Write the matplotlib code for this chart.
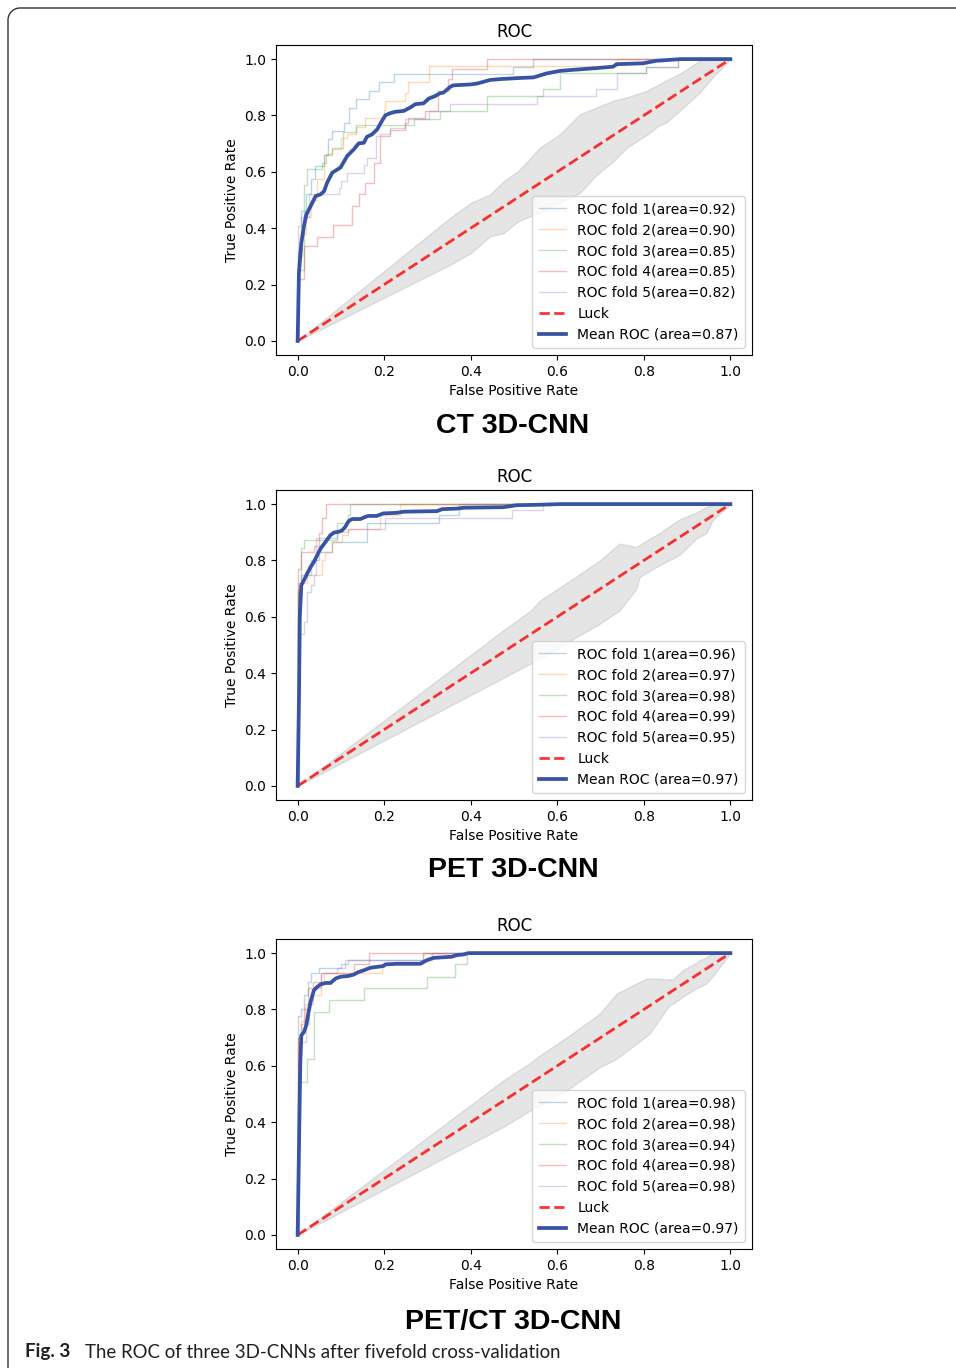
import numpy as np
import matplotlib
matplotlib.use("Agg")
import matplotlib.pyplot as plt
from matplotlib.lines import Line2D

plt.rcParams["font.family"] = ["DejaVu Sans"]

# ---------------- data ----------------
panel_names = ["CT 3D-CNN", "PET 3D-CNN", "PET/CT 3D-CNN"]
fold_aucs = [[0.92, 0.90, 0.85, 0.85, 0.82],
             [0.96, 0.97, 0.98, 0.99, 0.95],
             [0.98, 0.98, 0.94, 0.98, 0.98]]
mean_aucs = [0.87, 0.97, 0.97]
tick_vals = [0.0, 0.2, 0.4, 0.6, 0.8, 1.0]

# fold curves: fpr where TPR jumps, and the TPR level reached there
ct_folds_fpr = [
    [0, 0.008, 0.02, 0.03, 0.04, 0.06, 0.07, 0.08, 0.107, 0.118, 0.136, 0.164, 0.187, 0.222, 0.497, 0.545],
    [0, 0.01, 0.02, 0.03, 0.045, 0.06, 0.08, 0.1, 0.115, 0.135, 0.155, 0.199, 0.203, 0.249, 0.254, 0.303, 0.737],
    [0, 0.0146, 0.022, 0.057, 0.065, 0.08, 0.105, 0.136, 0.268, 0.33, 0.437, 0.567, 0.606, 0.806, 0.879],
    [0, 0.0146, 0.044, 0.081, 0.125, 0.141, 0.156, 0.177, 0.19, 0.213, 0.248, 0.256, 0.294, 0.325, 0.348, 0.356, 0.437],
    [0, 0.008, 0.026, 0.095, 0.1, 0.113, 0.153, 0.16, 0.182, 0.191, 0.214, 0.249, 0.303, 0.353, 0.552, 0.69, 0.737, 0.806, 0.879],
]
ct_folds_tpr = [
    [0.32, 0.46, 0.52, 0.575, 0.62, 0.66, 0.715, 0.745, 0.775, 0.828, 0.858, 0.887, 0.917, 0.947, 0.973, 1.0],
    [0.3, 0.38, 0.44, 0.50, 0.575, 0.66, 0.68, 0.72, 0.735, 0.76, 0.79, 0.822, 0.852, 0.881, 0.917, 0.974, 1.0],
    [0.25, 0.555, 0.609, 0.633, 0.662, 0.686, 0.742, 0.766, 0.787, 0.816, 0.87, 0.893, 0.949, 0.973, 1.0],
    [0.22, 0.336, 0.37, 0.41, 0.48, 0.52, 0.56, 0.633, 0.728, 0.75, 0.775, 0.792, 0.816, 0.887, 0.93, 0.964, 1.0],
    [0.407, 0.44, 0.52, 0.543, 0.567, 0.597, 0.623, 0.65, 0.727, 0.733, 0.757, 0.787, 0.816, 0.84, 0.87, 0.893, 0.949, 0.973, 1.0],
]
pet_folds_fpr = [
    [0, 0.0085, 0.03, 0.049, 0.08, 0.16, 0.326, 0.372],
    [0, 0.022, 0.057, 0.064, 0.08, 0.103, 0.116, 0.191, 0.237],
    [0, 0.0085, 0.0146, 0.0914, 0.116, 0.122],
    [0, 0.0085, 0.0376, 0.049, 0.057, 0.0645],
    [0.003, 0.0146, 0.022, 0.03, 0.0376, 0.0415, 0.0914, 0.116, 0.203, 0.495, 0.567],
]
pet_folds_tpr = [
    [0.70, 0.75, 0.80, 0.83, 0.866, 0.934, 0.96, 1.0],
    [0.72, 0.747, 0.80, 0.83, 0.866, 0.89, 0.913, 0.96, 1.0],
    [0.69, 0.845, 0.872, 0.934, 0.96, 1.0],
    [0.77, 0.83, 0.85, 0.896, 0.95, 1.0],
    [0.54, 0.581, 0.688, 0.712, 0.747, 0.878, 0.90, 0.913, 0.949, 0.979, 1.0],
]
petct_folds_fpr = [
    [0, 0.0085, 0.0146, 0.024, 0.03, 0.05, 0.10, 0.116, 0.29],
    [0, 0.0085, 0.0175, 0.03, 0.053, 0.06, 0.196, 0.29],
    [0, 0.022, 0.0376, 0.072, 0.153, 0.299, 0.364, 0.391],
    [0, 0.0085, 0.0146, 0.024, 0.035, 0.053, 0.13, 0.164],
    [0.003, 0.02, 0.026, 0.035, 0.053, 0.092, 0.11, 0.31],
]
petct_folds_tpr = [
    [0.777, 0.80, 0.85, 0.898, 0.928, 0.946, 0.96, 0.975, 1.0],
    [0.70, 0.76, 0.821, 0.851, 0.898, 0.928, 0.96, 1.0],
    [0.542, 0.625, 0.791, 0.835, 0.877, 0.916, 0.96, 1.0],
    [0.70, 0.75, 0.80, 0.877, 0.898, 0.928, 0.96, 1.0],
    [0.684, 0.75, 0.821, 0.877, 0.928, 0.946, 0.975, 1.0],
]

# mean ROC curves
ct_mean_fpr = [0, 0.003, 0.0085, 0.0146, 0.02, 0.03, 0.0415, 0.053, 0.061, 0.068, 0.080, 0.099, 0.1145, 0.13,
               0.141, 0.153, 0.16, 0.172, 0.184, 0.195, 0.203, 0.214, 0.226, 0.245, 0.26, 0.272, 0.291, 0.303,
               0.318, 0.329, 0.337, 0.353, 0.36, 0.399, 0.414, 0.445, 0.468, 0.514, 0.545, 0.575, 0.606, 0.629,
               0.69, 0.729, 0.737, 0.798, 0.829, 0.886, 1.0]
ct_mean_tpr = [0, 0.241, 0.348, 0.407, 0.448, 0.478, 0.514, 0.52, 0.531, 0.561, 0.597, 0.615, 0.656, 0.68,
               0.701, 0.703, 0.724, 0.733, 0.751, 0.781, 0.801, 0.808, 0.813, 0.816, 0.828, 0.84, 0.843, 0.86,
               0.869, 0.879, 0.881, 0.902, 0.907, 0.91, 0.913, 0.926, 0.929, 0.933, 0.935, 0.949, 0.958, 0.961,
               0.968, 0.973, 0.982, 0.985, 0.994, 1.0, 1.0]
pet_mean_fpr = [0, 0.003, 0.005, 0.0085, 0.0146, 0.022, 0.03, 0.0376, 0.0453, 0.053, 0.0645, 0.076, 0.084,
                0.0952, 0.103, 0.11, 0.118, 0.126, 0.145, 0.157, 0.164, 0.183, 0.198, 0.229, 0.245, 0.322,
                0.334, 0.368, 0.383, 0.475, 0.506, 0.567, 0.606, 1.0]
pet_mean_tpr = [0, 0.3, 0.6, 0.712, 0.73, 0.753, 0.777, 0.795, 0.819, 0.842, 0.866, 0.89, 0.899, 0.902, 0.907,
                0.919, 0.94, 0.947, 0.947, 0.955, 0.958, 0.958, 0.967, 0.969, 0.973, 0.975, 0.982, 0.984,
                0.987, 0.989, 0.996, 0.998, 1.0, 1.0]
petct_mean_fpr = [0, 0.003, 0.006, 0.0085, 0.0146, 0.02, 0.0253, 0.03, 0.0376, 0.0453, 0.053, 0.0645, 0.076,
                  0.088, 0.0991, 0.118, 0.13, 0.141, 0.153, 0.168, 0.183, 0.198, 0.203, 0.229, 0.283, 0.299,
                  0.314, 0.356, 0.368, 0.383, 0.395, 1.0]
petct_mean_tpr = [0, 0.3, 0.6, 0.708, 0.72, 0.744, 0.791, 0.827, 0.868, 0.88, 0.889, 0.894, 0.894, 0.91,
                  0.916, 0.919, 0.924, 0.933, 0.939, 0.948, 0.951, 0.954, 0.96, 0.962, 0.962, 0.975, 0.983,
                  0.987, 0.993, 0.995, 1.0, 1.0]

# grey band drawn around the chance line
ct_band_x = [0, 0.3525, 0.40, 0.445, 0.476, 0.51, 0.56, 0.606, 0.652, 0.69, 0.729, 0.76, 0.806, 0.836, 0.852,
             0.882, 0.929, 0.959, 0.975, 1.0]
ct_band_hi = [0, 0.437, 0.49, 0.52, 0.567, 0.603, 0.686, 0.733, 0.804, 0.828, 0.852, 0.864, 0.887, 0.911, 0.925,
              0.947, 0.994, 1.0, 1.0, 1.0]
ct_band_lo = [0, 0.27, 0.312, 0.371, 0.383, 0.425, 0.455, 0.49, 0.525, 0.588, 0.636, 0.685, 0.73, 0.765, 0.775,
              0.815, 0.881, 0.935, 0.96, 1.0]
pet_band_x = [0, 0.475, 0.537, 0.56, 0.637, 0.698, 0.744, 0.783, 0.79, 0.821, 0.829, 0.882, 0.921, 0.944, 0.959, 1.0]
pet_band_hi = [0, 0.552, 0.62, 0.658, 0.736, 0.80, 0.86, 0.848, 0.855, 0.884, 0.89, 0.945, 0.97, 0.99, 0.996, 1.0]
pet_band_lo = [0, 0.383, 0.433, 0.45, 0.522, 0.575, 0.623, 0.70, 0.741, 0.77, 0.777, 0.819, 0.878, 0.896, 0.943, 1.0]
petct_band_x = [0, 0.475, 0.537, 0.56, 0.621, 0.698, 0.737, 0.806, 0.813, 0.859, 0.867, 0.89, 0.921, 0.929, 0.944,
                0.952, 0.967, 1.0]
petct_band_hi = [0, 0.548, 0.61, 0.637, 0.70, 0.785, 0.856, 0.91, 0.91, 0.907, 0.906, 0.94, 0.965, 0.975, 0.985,
                 0.993, 0.998, 1.0]
petct_band_lo = [0, 0.383, 0.441, 0.46, 0.512, 0.595, 0.625, 0.705, 0.714, 0.815, 0.82, 0.845, 0.875, 0.88, 0.892,
                 0.905, 0.933, 1.0]

caption_bold = "Fig. 3"
caption_text = "The ROC of three 3D-CNNs after fivefold cross-validation"

# ---------------- figure ----------------
W, H = 956, 1368
fig = plt.figure(figsize=(W / 100, H / 100), dpi=100)
fig.patch.set_facecolor("white")

fold_colors = ["C0", "C1", "C2", "C3", "C4"]
mean_color = "#3953A4"

panels = [
    (ct_folds_fpr, ct_folds_tpr, ct_mean_fpr, ct_mean_tpr, ct_band_x, ct_band_lo, ct_band_hi, 45, 355, 426),
    (pet_folds_fpr, pet_folds_tpr, pet_mean_fpr, pet_mean_tpr, pet_band_x, pet_band_lo, pet_band_hi, 490, 800, 870),
    (petct_folds_fpr, petct_folds_tpr, petct_mean_fpr, petct_mean_tpr, petct_band_x, petct_band_lo, petct_band_hi,
     939, 1249, 1322),
]

left_px, right_px = 276, 752
for i, (ffpr, ftpr, mfpr, mtpr, bx, blo, bhi, top, bot, sub_y) in enumerate(panels):
    ax = fig.add_axes([left_px / W, 1 - bot / H, (right_px - left_px) / W, (bot - top) / H])
    for k in range(5):
        xs = [0] + ffpr[k] + [1]
        ys = [0] + ftpr[k] + [ftpr[k][-1]]
        ax.plot(xs, ys, drawstyle="steps-post", lw=1, alpha=0.3, color=fold_colors[k],
                label="ROC fold %d(area=%.2f)" % (k + 1, fold_aucs[i][k]))
    ax.fill_between(bx, blo, bhi, color="grey", alpha=0.2)
    ax.plot([0, 1], [0, 1], linestyle="--", lw=2, color="r", alpha=0.8, label="Luck")
    ax.plot(mfpr, mtpr, color=mean_color, lw=2.7, label="Mean ROC (area=%.2f)" % mean_aucs[i])
    ax.set_xlim(-0.05, 1.05)
    ax.set_ylim(-0.05, 1.05)
    ax.set_xticks(tick_vals)
    ax.set_yticks(tick_vals)
    ax.tick_params(labelsize=10)
    ax.set_xlabel("False Positive Rate", fontsize=10)
    ax.set_ylabel("True Positive Rate", fontsize=10)
    ax.set_title("ROC", fontsize=12)
    ax.legend(loc="lower right", fontsize=10, labelspacing=0.5, borderpad=0.45)
    fig.text(513 / W, 1 - sub_y / H, panel_names[i], ha="center", va="center",
             fontsize=20.5, fontweight="bold", family="Liberation Sans")

fig.text(25 / W, 1 - 1352 / H, caption_bold, ha="left", va="center", fontsize=13.6,
         fontweight="bold", family="Lato", color="#231F20")
fig.text(85 / W, 1 - 1352 / H, caption_text, ha="left", va="center", fontsize=13.4,
         family="Lato", color="#231F20")

# outer rounded frame (top-left corner)
r = 12
ang = np.linspace(np.pi, np.pi / 2, 20)
fx = np.concatenate([[8], 8 + r + r * np.cos(ang), [W]])
fy = np.concatenate([[H], 8 + r - r * np.sin(ang), [8]])
fig.add_artist(Line2D(fx / W, 1 - fy / H, transform=fig.transFigure, color="#333333", lw=1.0))

fig.savefig("out.png", dpi=100)
